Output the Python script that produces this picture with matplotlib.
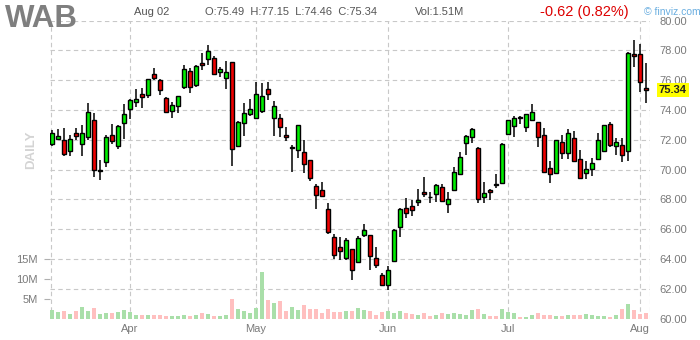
import matplotlib
matplotlib.use("Agg")
import matplotlib.pyplot as plt
import matplotlib.transforms as mtransforms
import numpy as np
import pandas as pd

plt.rcParams['font.family'] = ['Liberation Sans', 'DejaVu Sans']

ticker = "WAB"
header_date = "Aug 02"
last_ohlc = "O:75.49  H:77.15  L:74.46  C:75.34"
last_vol = "Vol:1.51M"
change_text = "-0.62 (0.82%)"
last_price = 75.34

dates = pd.bdate_range('2019-03-13', '2019-08-02', freq='C',
                       holidays=['2019-04-19', '2019-05-27', '2019-07-04'])

opens = [71.71, 72.05, 72.00, 71.24, 72.45, 71.71, 72.18, 73.32, 69.94, 70.51,
         72.32, 71.58, 73.12, 74.06, 74.53, 75.07, 75.00, 76.41, 76.01, 74.80,
         73.93, 74.26, 75.54, 76.61, 75.67, 77.15, 77.42, 77.49, 76.55, 76.14,
         77.22, 71.58, 73.12, 73.73, 73.46, 73.93, 75.40, 73.46, 73.46, 72.32,
         71.48, 71.31, 71.18, 70.64, 68.89, 68.63, 67.35, 65.47, 64.80, 64.06,
         64.67, 63.79, 65.61, 65.61, 64.06, 62.92, 62.25, 63.86, 66.14, 67.42,
         67.55, 67.82, 68.49, 68.17, 68.36, 68.83, 67.69, 68.63, 69.70, 71.78,
         72.18, 71.45, 68.16, 68.63, 69.01, 69.10, 72.38, 72.92, 73.52, 72.85,
         73.32, 73.19, 72.32, 70.10, 69.77, 71.85, 71.11, 72.12, 70.71, 69.77,
         70.04, 70.71, 71.24, 73.06, 71.58, 71.65, 71.24, 77.75, 77.75, 75.49]
highs = [72.68, 72.74, 72.79, 72.32, 72.79, 72.99, 74.47, 73.79, 70.64, 72.32,
         73.06, 72.99, 74.40, 74.73, 75.40, 75.47, 76.12, 76.81, 76.08, 74.87,
         74.53, 74.96, 77.02, 76.81, 77.02, 77.84, 78.38, 77.62, 76.88, 77.28,
         77.25, 73.26, 74.47, 74.73, 75.87, 75.81, 75.87, 74.60, 73.73, 72.85,
         71.65, 73.00, 72.00, 70.66, 69.03, 69.16, 67.75, 65.67, 65.47, 65.40,
         64.70, 65.54, 66.34, 65.63, 64.80, 63.06, 63.53, 66.00, 67.40, 68.09,
         67.96, 68.69, 69.48, 68.49, 69.03, 69.03, 68.49, 70.17, 71.18, 72.32,
         72.79, 71.51, 69.16, 68.69, 69.70, 71.78, 73.35, 73.59, 73.59, 73.75,
         74.40, 73.20, 72.79, 70.57, 72.02, 72.32, 72.74, 72.59, 71.31, 70.57,
         70.77, 72.45, 73.00, 73.19, 72.12, 72.12, 77.89, 78.69, 78.43, 77.15]
lows = [71.56, 71.96, 70.95, 70.95, 72.00, 70.95, 72.00, 69.54, 69.28, 70.21,
        71.71, 71.38, 72.05, 73.39, 74.20, 74.13, 74.80, 76.01, 75.00, 73.80,
        73.46, 73.79, 75.40, 75.14, 75.54, 76.66, 77.02, 76.34, 76.21, 75.40,
        70.24, 71.50, 72.23, 73.59, 73.40, 73.79, 74.67, 72.25, 72.18, 71.91,
        69.83, 70.77, 69.77, 69.23, 67.35, 68.16, 65.67, 64.00, 63.93, 63.93,
        62.59, 63.73, 65.47, 63.26, 63.39, 62.18, 61.92, 63.80, 65.47, 66.75,
        66.88, 67.55, 68.16, 67.75, 67.82, 67.82, 67.08, 68.60, 69.63, 70.98,
        71.78, 67.75, 67.75, 67.96, 68.76, 69.08, 72.35, 72.18, 73.06, 72.52,
        73.30, 71.51, 69.80, 69.10, 69.70, 70.71, 70.71, 70.55, 69.36, 69.36,
        69.57, 70.64, 71.20, 71.51, 70.98, 70.51, 70.57, 76.88, 75.20, 74.46]
closes = [72.45, 72.25, 71.04, 72.05, 72.25, 72.45, 73.86, 69.97, 69.96, 72.18,
          71.91, 72.92, 73.73, 74.67, 74.73, 74.87, 76.08, 76.14, 75.34, 73.86,
          74.33, 74.94, 76.75, 75.54, 76.95, 77.02, 77.96, 76.41, 76.75, 76.55,
          71.38, 73.19, 73.79, 74.06, 75.07, 74.94, 75.07, 74.26, 72.85, 72.18,
          71.50, 72.99, 70.37, 69.43, 68.29, 68.22, 65.81, 64.26, 64.53, 65.27,
          63.26, 65.40, 65.94, 64.20, 63.59, 62.25, 63.26, 65.94, 67.35, 67.08,
          67.28, 67.96, 68.36, 68.15, 68.96, 67.89, 68.02, 69.83, 70.84, 72.25,
          72.72, 68.02, 68.43, 68.49, 68.99, 71.71, 73.32, 73.46, 73.48, 73.73,
          73.86, 72.18, 69.83, 69.70, 72.00, 71.11, 72.45, 70.57, 69.43, 70.04,
          70.44, 72.00, 72.99, 71.65, 71.85, 70.98, 77.82, 77.62, 75.87, 75.34]
volumes_m = [2.25, 1.75, 2.0, 1.25, 2.0, 3.0, 2.0, 2.75, 1.25, 1.5,
             1.5, 1.75, 2.25, 1.75, 1.0, 1.0, 1.0, 1.0, 1.0, 0.75,
             0.75, 0.75, 1.0, 0.75, 1.0, 1.5, 1.25, 0.75, 0.75, 1.0,
             5.0, 2.5, 2.0, 1.5, 2.75, 11.75, 4.75, 4.0, 4.5, 2.0,
             3.0, 2.25, 3.5, 2.5, 2.5, 1.5, 2.5, 1.75, 1.75, 2.0,
             2.0, 2.75, 2.25, 2.0, 1.0, 1.75, 2.0, 1.5, 2.0, 1.5,
             1.25, 1.0, 1.5, 0.75, 1.0, 1.5, 1.25, 1.5, 1.25, 1.0,
             2.25, 2.5, 1.25, 0.75, 0.75, 2.5, 1.75, 1.5, 0.5, 0.5,
             1.0, 1.5, 1.0, 1.0, 0.75, 0.75, 1.0, 1.0, 1.0, 1.25,
             1.0, 0.75, 0.75, 0.5, 1.0, 2.5, 3.75, 2.25, 1.25, 1.51]

price_ticks = list(range(60, 81, 2))
vol_ticks = [5, 10, 15]
vol_labels = ['5M', '10M', '15M']

W, H = 700, 340
fig = plt.figure(figsize=(7, 3.4), dpi=100)
ax_l, ax_r, ax_t, ax_b = 50, 650, 20.7, 318.7
rect = [ax_l / W, 1 - ax_b / H, (ax_r - ax_l) / W, (ax_b - ax_t) / H]
ax_v = fig.add_axes(rect)
ax = fig.add_axes(rect, sharex=ax_v)
ax.patch.set_alpha(0)

n = len(closes)
x = np.arange(n)
o = np.array(opens); c = np.array(closes); hi = np.array(highs); lo = np.array(lows)
v = np.array(volumes_m)
up = c >= o

grid_col = '#c8c8c8'
dash = (0, (4, 3))

# volume
ax_v.bar(x, v, width=0.82, color=np.where(up, '#a9dfa9', '#ffbfbf'), zorder=1)
ax_v.set_ylim(0, 74.5)
ax_v.set_yticks(vol_ticks)
ax_v.set_yticklabels(vol_labels)
ax_v.tick_params(axis='y', left=True, right=False, length=4, width=0.8,
                 color='#b0b0b0', labelcolor='#7a7a7a', labelsize=8, pad=5)
ax_v.tick_params(axis='x', bottom=False, labelbottom=False)
for s in ax_v.spines.values():
    s.set_visible(False)
ax_v.patch.set_facecolor('white')

# month positions
month_idx = [i for i in range(1, n) if dates[i].month != dates[i - 1].month]
month_lab = [dates[i].strftime('%b') for i in month_idx]

ax.set_xlim(-1 / 3, n - 1 / 3)
ax.set_ylim(60, 80)

for p in price_ticks[1:]:
    ax_v.axhline(ax_v.transData.inverted().transform(
        ax.transData.transform((0, p)))[1], color=grid_col, lw=0.8, ls=dash, zorder=0)
for mi in month_idx:
    ax_v.axvline(mi, color=grid_col, lw=0.8, ls=dash, zorder=0)
ax_v.axvline(-1 / 3 + 0.12, color=grid_col, lw=0.8, ls=dash, zorder=0)
ax_v.axvline(n - 1 / 3 - 0.06, color=grid_col, lw=0.8, ls=dash, zorder=0)

# candles
ax.vlines(x, lo, hi, color='black', lw=1.1, zorder=2)
body = np.maximum(np.abs(c - o), 0.03)
ax.bar(x, body, bottom=np.minimum(o, c), width=0.66,
       color=np.where(up, '#00ee00', '#ee0000'), edgecolor='black', linewidth=1.0, zorder=3)

ax.yaxis.tick_right()
ax.set_yticks(price_ticks)
ax.set_yticklabels([f'{p:.2f}' for p in price_ticks])
ax.tick_params(axis='y', length=0, pad=7, labelsize=8, labelcolor='#7a7a7a')
ax.set_xticks(month_idx)
ax.set_xticklabels(month_lab)
ax.tick_params(axis='x', length=0, pad=4, labelsize=8, labelcolor='#7a7a7a')
for s in ax.spines.values():
    s.set_visible(False)

# current price tag
ax.text((659 - ax_l) / (ax_r - ax_l), last_price, f'{last_price:.2f}',
        transform=ax.get_yaxis_transform(), ha='left', va='center',
        fontsize=8, fontweight='bold', color='#222222', zorder=10,
        bbox=dict(boxstyle='square,pad=0.18', fc='#ffff00', ec='none'))

# header
def ft(px, py, s, **kw):
    fig.text(px / W, 1 - py / H, s, va='center', **kw)

ft(5, 19, ticker, fontsize=22.5, fontweight='bold', color='#7f7f7f')
ft(134, 12, header_date, fontsize=8, color='#555555')
ft(205, 12, last_ohlc, fontsize=8, color='#555555')
ft(415, 12, last_vol, fontsize=8, color='#555555')
ft(540, 12, change_text, fontsize=10.5, color='#dd0000')
ft(644, 12, '\u00a9 finviz.com', fontsize=7.5, color='#6aaee0')
fig.text(31 / W, 1 - 150 / H, 'DAILY', rotation=90, ha='center', va='center',
         fontsize=9.5, fontweight='bold', color='#d4d4d4')

fig.savefig('out.png', dpi=100)
